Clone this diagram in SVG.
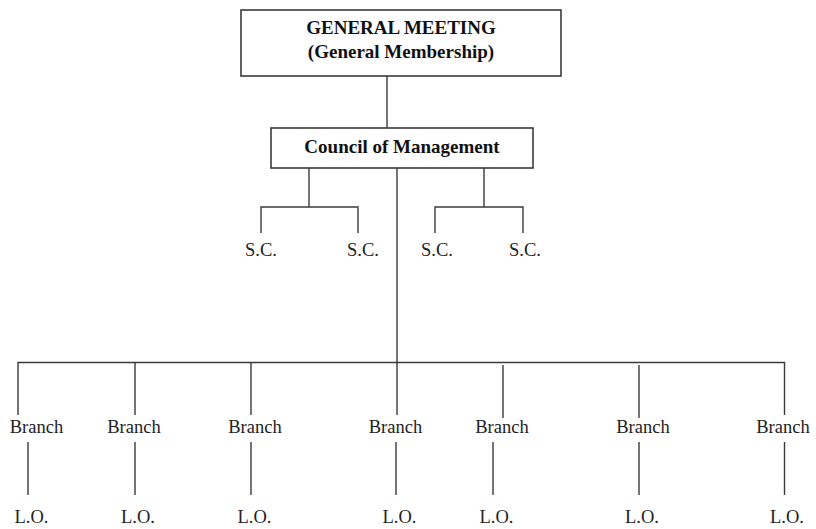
<svg xmlns="http://www.w3.org/2000/svg" width="816" height="529" viewBox="0 0 816 529">
<style>
.box{fill:#fff;stroke:#3a3a3a;stroke-width:1.6}
.ln{stroke:#3a3a3a;stroke-width:1.4;fill:none}
.b{font-family:"Liberation Serif","Times New Roman",serif;font-weight:bold;font-size:19px;fill:#111;text-anchor:middle}
.t{font-family:"Liberation Serif","Times New Roman",serif;font-size:18.5px;fill:#222;text-anchor:middle}
</style>
<rect width="816" height="529" fill="#fff"/>
<g id="connectors">
<path class="ln" d="M387 76V128"/>
<path class="ln" d="M309 168V207M261 233V207H358V233"/>
<path class="ln" d="M484 168V207M435 233V207H523V233"/>
<path class="ln" d="M397 168V415"/>
<path class="ln" d="M18 415V362.5H784.5V415"/>
<path class="ln" d="M135 362.5V415M251 362.5V415M503 365V418M639 365V418"/>
<path class="ln" d="M28 442V495M135 442V495M251 442V495M396 442V495M493 442V495M639 442V495M784.5 442V495"/>
</g>
<g id="general-meeting">
<rect class="box" x="241" y="10" width="320" height="66"/>
<text class="b" x="401" y="34">GENERAL MEETING</text>
<text class="b" x="401" y="58">(General Membership)</text>
</g>
<g id="council">
<rect class="box" x="271" y="128" width="262" height="40"/>
<text class="b" x="402" y="153">Council of Management</text>
</g>
<g id="sc1"><text class="t" x="261" y="256">S.C.</text></g>
<g id="sc2"><text class="t" x="363" y="256">S.C.</text></g>
<g id="sc3"><text class="t" x="437" y="256">S.C.</text></g>
<g id="sc4"><text class="t" x="525" y="256">S.C.</text></g>
<g id="branch1"><text class="t" x="36.5" y="433">Branch</text></g>
<g id="branch2"><text class="t" x="134" y="433">Branch</text></g>
<g id="branch3"><text class="t" x="255" y="433">Branch</text></g>
<g id="branch4"><text class="t" x="395.5" y="433">Branch</text></g>
<g id="branch5"><text class="t" x="502" y="433">Branch</text></g>
<g id="branch6"><text class="t" x="643" y="433">Branch</text></g>
<g id="branch7"><text class="t" x="783" y="433">Branch</text></g>
<g id="lo1"><text class="t" x="31.5" y="523">L.O.</text></g>
<g id="lo2"><text class="t" x="138" y="523">L.O.</text></g>
<g id="lo3"><text class="t" x="254.5" y="523">L.O.</text></g>
<g id="lo4"><text class="t" x="399.5" y="523">L.O.</text></g>
<g id="lo5"><text class="t" x="496.5" y="523">L.O.</text></g>
<g id="lo6"><text class="t" x="642" y="523">L.O.</text></g>
<g id="lo7"><text class="t" x="787" y="523">L.O.</text></g>
</svg>
